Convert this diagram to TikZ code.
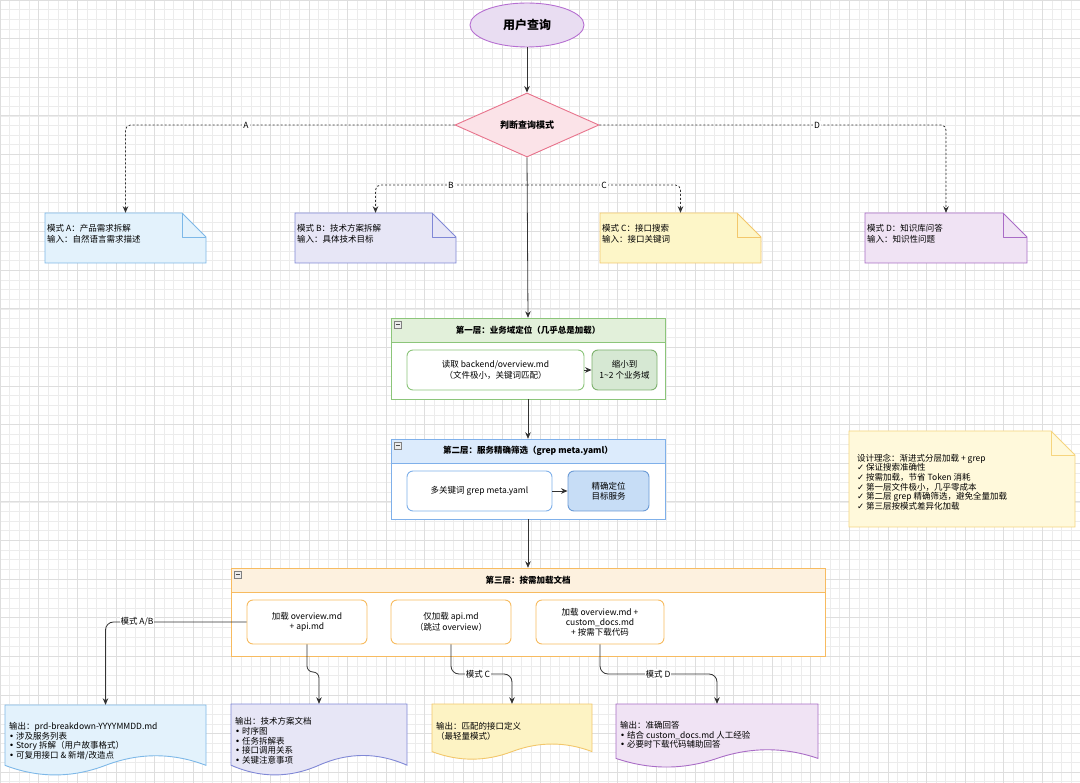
\documentclass[tikz,border=0pt]{standalone}
\usepackage{fontspec}
\setmainfont{Noto Sans CJK SC}
\newfontfamily\symfont{DejaVu Sans}
\usetikzlibrary{shapes.geometric,arrows.meta,calc}
\definecolor{linec}{HTML}{333333}
\definecolor{gridmin}{HTML}{ECECEC}
\definecolor{gridmaj}{HTML}{DEDEDE}
\definecolor{purpF}{HTML}{E9DDF2}
\definecolor{purpS}{HTML}{B66FD1}
\definecolor{pinkF}{HTML}{FBE3E8}
\definecolor{pinkS}{HTML}{E8728B}
\definecolor{blueF}{HTML}{E3F2FC}
\definecolor{blueS}{HTML}{7DB8E8}
\definecolor{indF}{HTML}{E7E6F6}
\definecolor{indS}{HTML}{8088D6}
\definecolor{yelF}{HTML}{FDF6C8}
\definecolor{yelS}{HTML}{F3C76B}
\definecolor{vioF}{HTML}{F0E3F4}
\definecolor{vioS}{HTML}{A96CC6}
\definecolor{grnH}{HTML}{E2F0DA}
\definecolor{grnS}{HTML}{8CC57A}
\definecolor{grnB}{HTML}{D6E8D3}
\definecolor{bluH}{HTML}{DCEBFC}
\definecolor{bluS}{HTML}{7FB0EA}
\definecolor{bluB}{HTML}{C7DDF6}
\definecolor{bluBS}{HTML}{6C9BD6}
\definecolor{orgH}{HTML}{FDF1DF}
\definecolor{orgS}{HTML}{F7BB60}
\definecolor{desF}{HTML}{FFF9DB}
\definecolor{desS}{HTML}{F6D57E}
\definecolor{outCF}{HTML}{FDF3C4}
\newcommand\txtf{\fontsize{8.5}{10.5}\selectfont}
\newcommand\hdrfont{\fontsize{8.5}{10.5}\selectfont\bfseries}
\newcommand\ck{{\symfont ✓}}
\newcommand\bu{{\symfont •}}
% note with folded corner: name x1 y1 x2 y2 fill stroke text
\newcommand\notebox[8]{%
  \filldraw[fill=#6, draw=#7, line width=0.9pt] (#2,#3) -- (#4-24,#3) -- (#4,#3+24) -- (#4,#5) -- (#2,#5) -- cycle;
  \draw[draw=#7, line width=0.9pt, line join=round] (#4-24,#3) -- (#4-24,#3+24) -- (#4,#3+24);
  \node[draw=none, inner sep=0, minimum width=#4-#2, minimum height=#5-#3] (#1) at ({(#2+#4)/2},{(#3+#5)/2}) {};
  \node[anchor=west, align=left, inner sep=0, font=\fontsize{8.5}{11}\selectfont] at (#2+2, {(#3+#5)/2-4}) {#8};
}
% layer container: name x1 y1 x2 y2 headerfill stroke title
\newcommand\layerbox[8]{%
  \fill[white] (#2,#3) rectangle (#4,#5);
  \filldraw[fill=#6, draw=#7, line width=0.9pt] (#2,#3) rectangle (#4,#3+24);
  \draw[draw=#7, line width=0.9pt] (#2,#3) rectangle (#4,#5);
  \node[draw=none, inner sep=0, minimum width=#4-#2, minimum height=#5-#3] (#1) at ({(#2+#4)/2},{(#3+#5)/2}) {};
  \node[font=\hdrfont, inner sep=0] at ({(#2+#4)/2}, #3+12) {#8};
  \draw[gray, fill=gray!15, line width=0.4pt] (#2+3,#3+3) rectangle (#2+10,#3+10);
  \draw[gray!60!black, line width=0.6pt] (#2+4.5,#3+6.5) -- (#2+8.5,#3+6.5);
}
% document shape: name x1 y1 x2 h fill stroke text textoffset
\newcommand\docshape[9]{%
  \pgfmathsetmacro\dw{#4-#2}%
  \pgfmathsetmacro\ddy{0.3*#5}%
  \pgfmathsetmacro\dY{#3+#5-\ddy/2}%
  \filldraw[fill=#6, draw=#7, line width=0.9pt] (#2,#3) -- (#4,#3) -- (#4,\dY)
    .. controls ({#4-\dw/6},{\dY-0.6*\ddy}) and ({#2+2*\dw/3},{\dY-0.6*\ddy}) .. ({#2+\dw/2},\dY)
    .. controls ({#2+\dw/3},{\dY+0.6*\ddy}) and ({#2+\dw/6},{\dY+0.6*\ddy}) .. (#2,\dY) -- cycle;
  \node[draw=none, inner sep=0, minimum width=\dw, minimum height=#5] (#1) at ({(#2+#4)/2},{#3+#5/2}) {};
  \node[anchor=north west, align=left, inner sep=0, font=\fontsize{8.5}{9.8}\selectfont] at (#2+4, #3+#9) {#8};
}
\begin{document}
\begin{tikzpicture}[x=1pt, y=-1pt, font=\txtf,
  conn/.style={draw=linec, line width=0.8pt, -{Stealth[length=6.5pt,width=5.5pt]}},
  dconn/.style={conn, dash pattern=on 2pt off 2pt, rounded corners=5pt},
  lbl/.style={fill=white, inner sep=1pt, font=\fontsize{8.5}{10}\selectfont},
  ibox/.style={rounded corners=6pt, line width=0.9pt, fill=white, align=center, inner sep=2pt, font=\fontsize{8.5}{10.5}\selectfont}]
\useasboundingbox (0,0) rectangle (1080,783);
\fill[white] (0,0) rectangle (1080,783);
% grid
\foreach \i in {0,...,112}{\draw[gridmin, line width=0.5pt] ({\i*9.65},0) -- ({\i*9.65},783);}
\foreach \i in {0,...,81}{\draw[gridmin, line width=0.5pt] (0,{\i*9.65}) -- (1080,{\i*9.65});}
\foreach \i in {0,...,28}{\draw[gridmaj, line width=0.6pt] ({\i*38.6},0) -- ({\i*38.6},783);}
\foreach \i in {0,...,20}{\draw[gridmaj, line width=0.6pt] (0,{\i*38.6}) -- (1080,{\i*38.6});}

% top
\node[ellipse, draw=purpS, fill=purpF, line width=0.9pt, minimum width=114, minimum height=44,
  font=\fontsize{12}{14}\selectfont\bfseries] (q) at (527,25) {用户查询};
\node[diamond, draw=pinkS, fill=pinkF, line width=0.9pt, minimum width=144, minimum height=64,
  inner sep=0, font=\fontsize{9}{11}\selectfont\bfseries] (d) at (527,125) {判断查询模式};
\draw[conn] (q.south) -- (d.north);

% mode notes
\notebox{nA}{45}{213}{206}{263}{blueF}{blueS}{模式 A：产品需求拆解\\输入：自然语言需求描述}
\notebox{nB}{295}{213}{456}{263}{indF}{indS}{模式 B：技术方案拆解\\输入：具体技术目标}
\notebox{nC}{600}{213}{761}{263}{yelF}{yelS}{模式 C：接口搜索\\输入：接口关键词}
\notebox{nD}{865}{213}{1027}{263}{vioF}{vioS}{模式 D：知识库问答\\输入：知识性问题}

% layers
\layerbox{L1}{391}{318}{665}{399}{grnH}{grnS}{第一层：业务域定位（几乎总是加载）}
\layerbox{L2}{391}{439}{665}{519}{bluH}{bluS}{第二层：服务精确筛选（grep meta.yaml）}
\layerbox{L3}{231}{568}{825}{656}{orgH}{orgS}{第三层：按需加载文档}

% main line and dashed branches
\draw[conn] (d.south) -- (L1.north);
\coordinate (j) at (527,185);
\draw[dconn] (d.west) -| (nA.north);
\draw[dconn] (d.east) -| (nD.north);
\draw[dconn] (j) -| (nB.north);
\draw[dconn] (j) -| (nC.north);
\node[lbl] (lA) at (246,125) {A};
\node[lbl] (lD) at (817,125) {D};
\node[lbl] (lB) at (451,185) {B};
\node[lbl] (lC) at (604,185) {C};

% layer 1 contents
\node[ibox, draw=grnS, minimum width=177, minimum height=40] (r1) at (495.5,370) {读取 backend/overview.md\\（文件极小，关键词匹配）};
\node[ibox, draw=grnS!90!black, fill=grnB, minimum width=65, minimum height=40] (r2) at (624.5,370) {缩小到\\1\textasciitilde 2 个业务域};
\draw[conn] (r1.east) -- (r2.west);
% layer 2 contents
\node[ibox, draw=bluS, minimum width=145, minimum height=40] (s1) at (479.5,491) {多关键词 grep meta.yaml};
\node[ibox, draw=bluBS, fill=bluB, minimum width=81, minimum height=40] (s2) at (608.5,491) {精确定位\\目标服务};
\draw[conn] (s1.east) -- (s2.west);
\draw[conn] (L1.south) -- (L2.north);
\draw[conn] (L2.south) -- (L3.north);

% layer 3 contents
\node[ibox, draw=orgS, minimum width=120, minimum height=44] (b1) at (307,622) {加载 overview.md\\+ api.md};
\node[ibox, draw=orgS, minimum width=120, minimum height=44] (b2) at (451,622) {仅加载 api.md\\（跳过 overview）};
\node[ibox, draw=orgS, minimum width=128, minimum height=44, font=\fontsize{8.5}{10}\selectfont] (b3) at (600,622) {加载 overview.md +\\custom\_docs.md\\+ 按需下载代码};

% outputs
\docshape{oA}{5}{705}{206}{71}{blueF}{blueS}{输出：prd-breakdown-YYYYMMDD.md\\\bu\ 涉及服务列表\\\bu\ Story 拆解（用户故事格式）\\\bu\ 可复用接口 \& 新增/改造点}{17}
\docshape{oB}{231}{704}{407}{72}{indF}{indS}{输出：技术方案文档\\\bu\ 时序图\\\bu\ 任务拆解表\\\bu\ 接口调用关系\\\bu\ 关键注意事项}{13}
\docshape{oC}{432}{704}{592}{56}{outCF}{yelS}{输出：匹配的接口定义\\（最轻量模式）}{18}
\docshape{oD}{616}{704}{818}{64}{vioF}{vioS}{输出：准确回答\\\bu\ 结合 custom\_docs.md 人工经验\\\bu\ 必要时下载代码辅助回答}{17}

% output connectors
\draw[conn, rounded corners=8pt] (b1.west) -| (oA.north);
\node[lbl] (mAB) at (137,622) {模式 A/B};
\draw[conn, rounded corners=6pt] (b1.south) -- (307,672) -- (319,672) -- (oB.north);
\draw[conn, rounded corners=8pt] (b2.south) -- (451,674) -| (oC.north);
\node[lbl] (mC) at (478,674) {模式 C};
\draw[conn, rounded corners=8pt] (b3.south) -- (600,674) -| (oD.north);
\node[lbl] (mD) at (658,674) {模式 D};

% design note
\notebox{dn}{849}{431}{1075}{527}{desF}{desS}{}
\node[anchor=west, align=left, inner sep=0, font=\fontsize{8.5}{9.6}\selectfont] (dnt) at (857,482) {设计理念：渐进式分层加载 + grep\\\ck\ 保证搜索准确性\\\ck\ 按需加载，节省 Token 消耗\\\ck\ 第一层文件极小，几乎零成本\\\ck\ 第二层 grep 精确筛选，避免全量加载\\\ck\ 第三层按模式差异化加载};
\end{tikzpicture}
\end{document}
